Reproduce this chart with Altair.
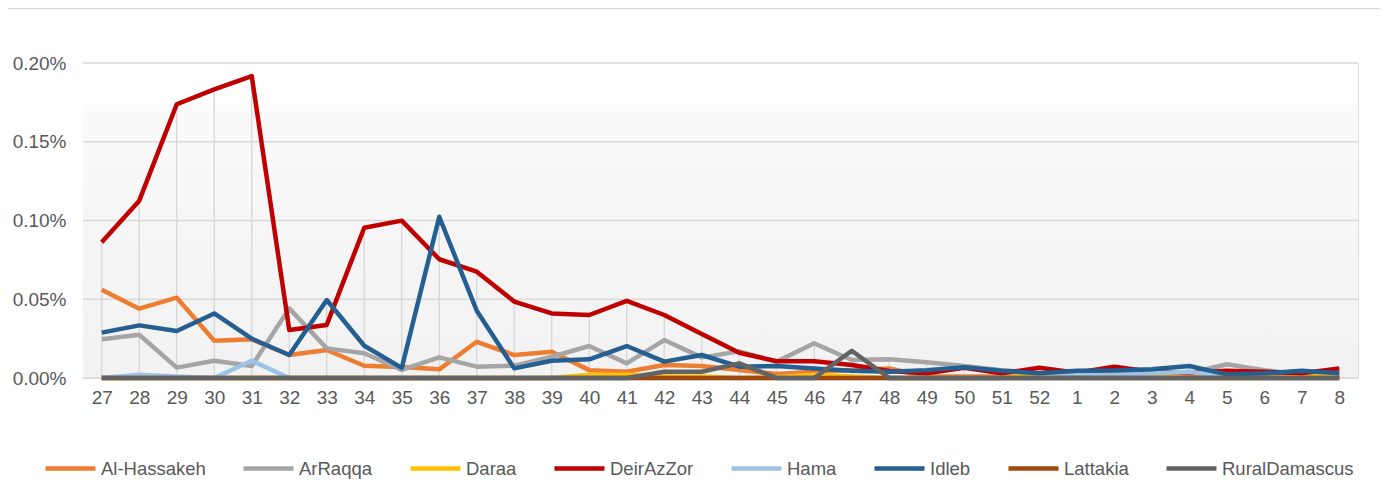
import altair as alt
import pandas as pd

weeks = [str(w) for w in range(27, 53)] + [str(w) for w in range(1, 9)]

series_names = ["Al-Hassakeh", "ArRaqqa", "Daraa", "DeirAzZor", "Hama", "Idleb", "Lattakia", "RuralDamascus"]
series_colors = ["#ED7D31", "#A5A5A5", "#FFC000", "#C00000", "#9DC3E6", "#255E91", "#9E480E", "#636363"]

al_hassakeh = [0.056, 0.044, 0.051, 0.0237, 0.0246, 0.0146, 0.0178, 0.0078, 0.007, 0.0055,
               0.023, 0.0146, 0.0167, 0.005, 0.004, 0.0083, 0.0076, 0.0051, 0.0025, 0.004,
               0.005, 0.006, 0.001, 0.001, 0.001, 0.001, 0.001, 0.001, 0.001, 0.001,
               0.001, 0.001, 0.001, 0.001]
arraqqa = [0.0246, 0.0275, 0.0066, 0.011, 0.0076, 0.0442, 0.0188, 0.0157, 0.0051, 0.0131,
           0.0072, 0.0078, 0.0135, 0.0203, 0.0093, 0.0241, 0.0131, 0.0169, 0.0104, 0.022,
           0.0114, 0.0119, 0.010, 0.0076, 0.005, 0.003, 0.002, 0.003, 0.003, 0.003,
           0.0087, 0.005, 0.002, 0.002]
daraa = [0, 0, 0, 0, 0, 0, 0, 0, 0, 0,
         0, 0, 0, 0.002, 0.002, 0.001, 0.001, 0, 0.0005, 0.002,
         0.001, 0, 0, 0, 0, 0.003, 0, 0.002, 0.002, 0,
         0, 0, 0.001, 0.003]
deirazzor = [0.0862, 0.1126, 0.1738, 0.1833, 0.1917, 0.0305, 0.0337, 0.0954, 0.0999, 0.0754,
             0.0675, 0.0485, 0.041, 0.040, 0.049, 0.040, 0.0279, 0.016, 0.0106, 0.0106,
             0.0083, 0.0045, 0.003, 0.0065, 0.003, 0.0065, 0.0034, 0.0072, 0.004, 0.0035,
             0.0046, 0.004, 0.003, 0.0061]
hama = [0, 0.002, 0.001, 0, 0.011, 0, 0, 0, 0, 0,
        0, 0, 0, 0, 0, 0, 0, 0, 0, 0,
        0, 0, 0, 0, 0, 0, 0.002, 0.002, 0.003, 0.004,
        0.001, 0, 0, 0]
idleb = [0.0288, 0.0334, 0.0298, 0.041, 0.025, 0.0146, 0.0495, 0.0205, 0.0064, 0.1024,
         0.0427, 0.0061, 0.011, 0.0119, 0.0203, 0.0104, 0.0146, 0.0072, 0.0076, 0.0061,
         0.0046, 0.004, 0.005, 0.0068, 0.0046, 0.003, 0.0046, 0.0048, 0.0055, 0.0076,
         0.0023, 0.003, 0.0046, 0.003]
lattakia = [0] * 34
rural_damascus = [0, 0, 0, 0, 0, 0, 0, 0, 0, 0,
                  0, 0, 0, 0, 0, 0.004, 0.004, 0.0093, 0, 0,
                  0.0173, 0, 0, 0, 0, 0, 0, 0, 0, 0,
                  0, 0, 0, 0]

y_ticks = [0, 0.05, 0.10, 0.15, 0.20]

series_values = [al_hassakeh, arraqqa, daraa, deirazzor, hama, idleb, lattakia, rural_damascus]
rows = []
for name, vals in zip(series_names, series_values):
    for w, v in zip(weeks, vals):
        rows.append({"week": w, "series": name, "value": v})
df = pd.DataFrame(rows)

W, H = 1275, 315
FONT = "Liberation Sans, Arial, sans-serif"

x_enc = alt.X("week:N", sort=weeks, scale=alt.Scale(type="point", padding=0.5),
              axis=alt.Axis(title=None, labelAngle=0, ticks=False, domain=False, grid=False,
                            labelPadding=10, labelFontSize=19, labelColor="#595959", labelFont=FONT))
y_scale = alt.Scale(domain=[0, 0.2], nice=False, zero=True)
y_axis = alt.Axis(title=None, values=y_ticks, labelExpr="format(datum.value, '.2f') + '%'",
                  ticks=False, domain=False, grid=False, labelPadding=17,
                  labelFontSize=19, labelColor="#595959", labelFont=FONT)

bg = alt.Chart(pd.DataFrame({"a": [0]})).mark_rect(
    fill=alt.Gradient(gradient="linear", x1=0, x2=0, y1=0, y2=1,
                      stops=[alt.GradientStop(color="#ffffff", offset=0),
                             alt.GradientStop(color="#ffffff", offset=0.13),
                             alt.GradientStop(color="#fbfbfb", offset=0.135),
                             alt.GradientStop(color="#f5f5f5", offset=0.6),
                             alt.GradientStop(color="#f2f2f2", offset=1)])
).encode(x=alt.value(0), x2=alt.value(W), y=alt.value(0), y2=alt.value(H))

grid = alt.Chart(pd.DataFrame({"t": y_ticks})).mark_rule(color="#d9d9d9", strokeWidth=1.3).encode(
    y=alt.Y("t:Q", scale=y_scale, axis=y_axis), x=alt.value(0), x2=alt.value(W))

drops = alt.Chart(df).mark_rule(color="#d6d6d6", strokeWidth=1.3).encode(
    x=x_enc, y=alt.Y("max(value):Q", scale=y_scale, axis=y_axis), y2=alt.datum(0))

lines = alt.Chart(df).mark_line(strokeWidth=4.5, strokeJoin="round").encode(
    x=x_enc,
    y=alt.Y("value:Q", scale=y_scale, axis=y_axis),
    color=alt.Color("series:N", sort=series_names,
                    scale=alt.Scale(domain=series_names, range=series_colors),
                    legend=alt.Legend(title=None, orient="none", legendX=-40, legendY=378,
                                      direction="horizontal", columns=8,
                                      symbolType="stroke", symbolSize=2500, symbolStrokeWidth=4.5,
                                      labelFontSize=18.5, labelColor="#595959", labelFont=FONT,
                                      labelOffset=3, columnPadding=28)),
    order=alt.Order("week_idx:Q")
).transform_calculate(week_idx="indexof(" + str(weeks) + ", datum.week)")

top_border = alt.Chart(pd.DataFrame({"a": [0]})).mark_rule(color="#d9d9d9", strokeWidth=1.5).encode(
    x=alt.value(-75), x2=alt.value(W + 22), y=alt.value(-54.5))

chart = alt.layer(bg, grid, drops, lines, top_border).properties(
    width=W, height=H,
    padding={"left": 75, "top": 55, "right": 22, "bottom": 110},
    autosize=alt.AutoSizeParams(type="none")
).configure_view(stroke=None).configure(font=FONT, background="white")

chart.save("out.html", embed_options={"renderer": "svg", "actions": False})
